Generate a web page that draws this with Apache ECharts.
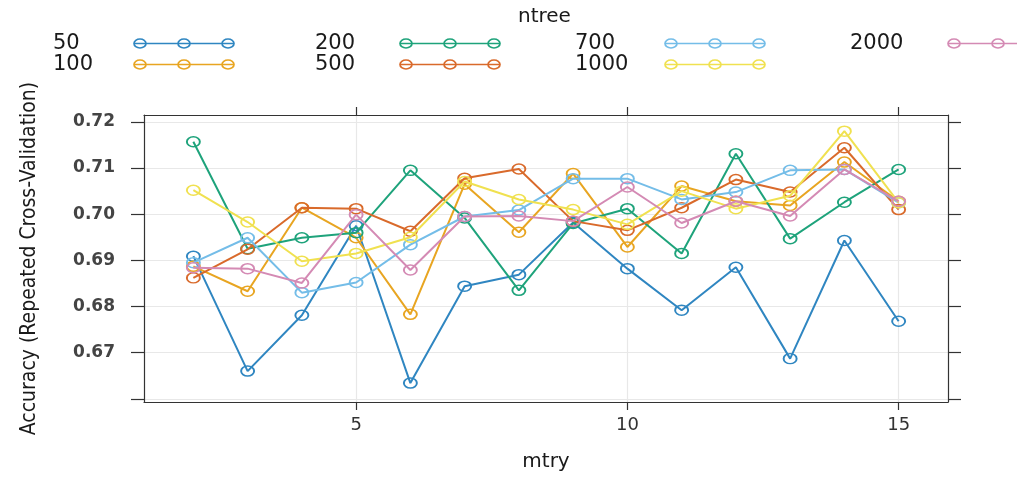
<!DOCTYPE html>
<html>
<head>
<meta charset="utf-8">
<script src="https://cdn.jsdelivr.net/npm/echarts@6/dist/echarts.min.js"></script>
<style>html,body{margin:0;padding:0;background:#fff;}#c{width:1017px;height:479px;}</style>
</head>
<body>
<div id="c"></div>
<script>
const mtry = [2,3,4,5,6,7,8,9,10,11,12,13,14,15];
const ntreeNames = ['50','100','200','500','700','1000','2000'];
const acc50   = [0.6909,0.6660,0.6781,0.6975,0.6634,0.6844,0.6869,0.6982,0.6882,0.6792,0.6885,0.6687,0.6943,0.6768];
const acc100  = [0.6887,0.6833,0.7014,0.6949,0.6783,0.7065,0.6961,0.7088,0.6929,0.7061,0.7028,0.7019,0.7113,0.7028];
const acc200  = [0.7157,0.6925,0.6949,0.6960,0.7095,0.6992,0.6835,0.6980,0.7012,0.6915,0.7131,0.6947,0.7026,0.7097];
const acc500  = [0.6862,0.6924,0.7014,0.7012,0.6963,0.7078,0.7098,0.6985,0.6965,0.7014,0.7075,0.7048,0.7144,0.7010];
const acc700  = [0.6895,0.6949,0.6830,0.6852,0.6934,0.6995,0.7009,0.7077,0.7077,0.7032,0.7048,0.7095,0.7097,0.7025];
const acc1000 = [0.7052,0.6983,0.6898,0.6915,0.6950,0.7071,0.7032,0.7010,0.6978,0.7050,0.7012,0.7040,0.7180,0.7025];
const acc2000 = [0.6884,0.6882,0.6851,0.6999,0.6879,0.6995,0.6996,0.6985,0.7059,0.6981,0.7028,0.6996,0.7097,0.7028];
const xTicks = [5,10,15];
const yTicks = [0.66,0.67,0.68,0.69,0.70,0.71,0.72];
const yLabels = [0.67,0.68,0.69,0.70,0.71,0.72];

const allAcc = [acc50,acc100,acc200,acc500,acc700,acc1000,acc2000];
const colors = ['#2f86c1','#e8a521','#1ea37b','#d96a2b','#74bde8','#f0e150','#d48ab4'];

const chart = echarts.init(document.getElementById('c'), null, {renderer:'canvas'});
const icon = 'path://M0,5L100,5M0,5a6,4.5 0 1,0 12,0a6,4.5 0 1,0 -12,0M44,5a6,4.5 0 1,0 12,0a6,4.5 0 1,0 -12,0M88,5a6,4.5 0 1,0 12,0a6,4.5 0 1,0 -12,0';
const legendCols = [['50','100'],['200','500'],['700','1000'],['2000']];
const legendLeft = [53,315,575,850];
const legendTextW = [76,80,85,93];
const legends = legendCols.map((names,i)=>({
  data: names,
  orient: 'vertical',
  left: legendLeft[i],
  top: 33,
  padding: 0,
  align: 'right',
  icon: icon,
  itemWidth: 100,
  itemHeight: 9,
  itemGap: 0,
  selectedMode: false,
  itemStyle: {color: 'transparent', borderColor: 'inherit', borderWidth: 1.7},
  formatter: '{t|{name}}',
  textStyle: {
    rich: {t: {fontFamily: 'DejaVu Sans', fontSize: 21, color: '#1a1a1a', width: legendTextW[i], align: 'left', lineHeight: 20}}
  }
}));

const fmt = v => v.toFixed(2);
const option = {
  backgroundColor: '#fff',
  animation: false,
  title: {text: 'ntree', left: 513, top: 2, textStyle: {fontFamily: 'DejaVu Sans', fontSize: 20, fontWeight: 'normal', color: '#1a1a1a'}},
  legend: legends,
  grid: {left: 144, right: 69, top: 115, bottom: 77, show: false},
  xAxis: [{
    type: 'value', min: 1.09, max: 15.91, position: 'bottom',
    name: 'mtry', nameLocation: 'middle', nameGap: 50,
    nameTextStyle: {fontFamily: 'DejaVu Sans', fontSize: 20, color: '#1a1a1a'},
    axisLine: {show: true, onZero: false, lineStyle: {color: '#333', width: 1.2}},
    axisTick: {show: true, length: 8, customValues: xTicks, lineStyle: {color: '#333', width: 1.2}},
    axisLabel: {customValues: xTicks, margin: 14, fontFamily: 'DejaVu Sans', fontSize: 18, color: '#333'},
    splitLine: {show: true, lineStyle: {color: '#e8e8e8', width: 1.2}}
  },{
    type: 'value', min: 1.09, max: 15.91, position: 'top',
    axisLine: {show: true, onZero: false, lineStyle: {color: '#333', width: 1.2}},
    axisTick: {show: true, length: 8, customValues: xTicks, lineStyle: {color: '#333', width: 1.2}},
    axisLabel: {show: false, customValues: xTicks},
    splitLine: {show: false}
  }],
  yAxis: [{
    type: 'value', min: 0.6593, max: 0.7215, position: 'left',
    name: 'Accuracy (Repeated Cross-Validation)', nameLocation: 'middle', nameGap: 104,
    nameTextStyle: {fontFamily: 'Liberation Sans Narrow, DejaVu Sans Condensed, Liberation Sans', fontSize: 21, color: '#1a1a1a'},
    axisLine: {show: true, onZero: false, lineStyle: {color: '#333', width: 1.2}},
    axisTick: {show: true, length: 13, customValues: yTicks, lineStyle: {color: '#333', width: 1.2}},
    axisLabel: {customValues: yLabels, margin: 29, formatter: fmt, fontFamily: 'DejaVu Sans', fontWeight: 'bold', fontSize: 17, color: '#444'},
    splitLine: {show: true, lineStyle: {color: '#e8e8e8', width: 1.2}}
  },{
    type: 'value', min: 0.6593, max: 0.7215, position: 'right',
    axisLine: {show: true, onZero: false, lineStyle: {color: '#333', width: 1.2}},
    axisTick: {show: true, length: 13, customValues: yTicks, lineStyle: {color: '#333', width: 1.2}},
    axisLabel: {show: false, customValues: yLabels},
    splitLine: {show: false}
  }],
  series: ntreeNames.map((n,i)=>({
    name: n,
    type: 'line',
    xAxisIndex: 0, yAxisIndex: 0,
    data: mtry.map((m,j)=>[m, allAcc[i][j]]),
    symbol: 'circle',
    symbolSize: [13,10],
    showAllSymbol: true,
    color: colors[i],
    lineStyle: {width: 2, color: colors[i]},
    itemStyle: {color: 'transparent', borderColor: colors[i], borderWidth: 1.7},
    z: 2 + i
  }))
};
chart.setOption(option);
</script>
</body>
</html>
